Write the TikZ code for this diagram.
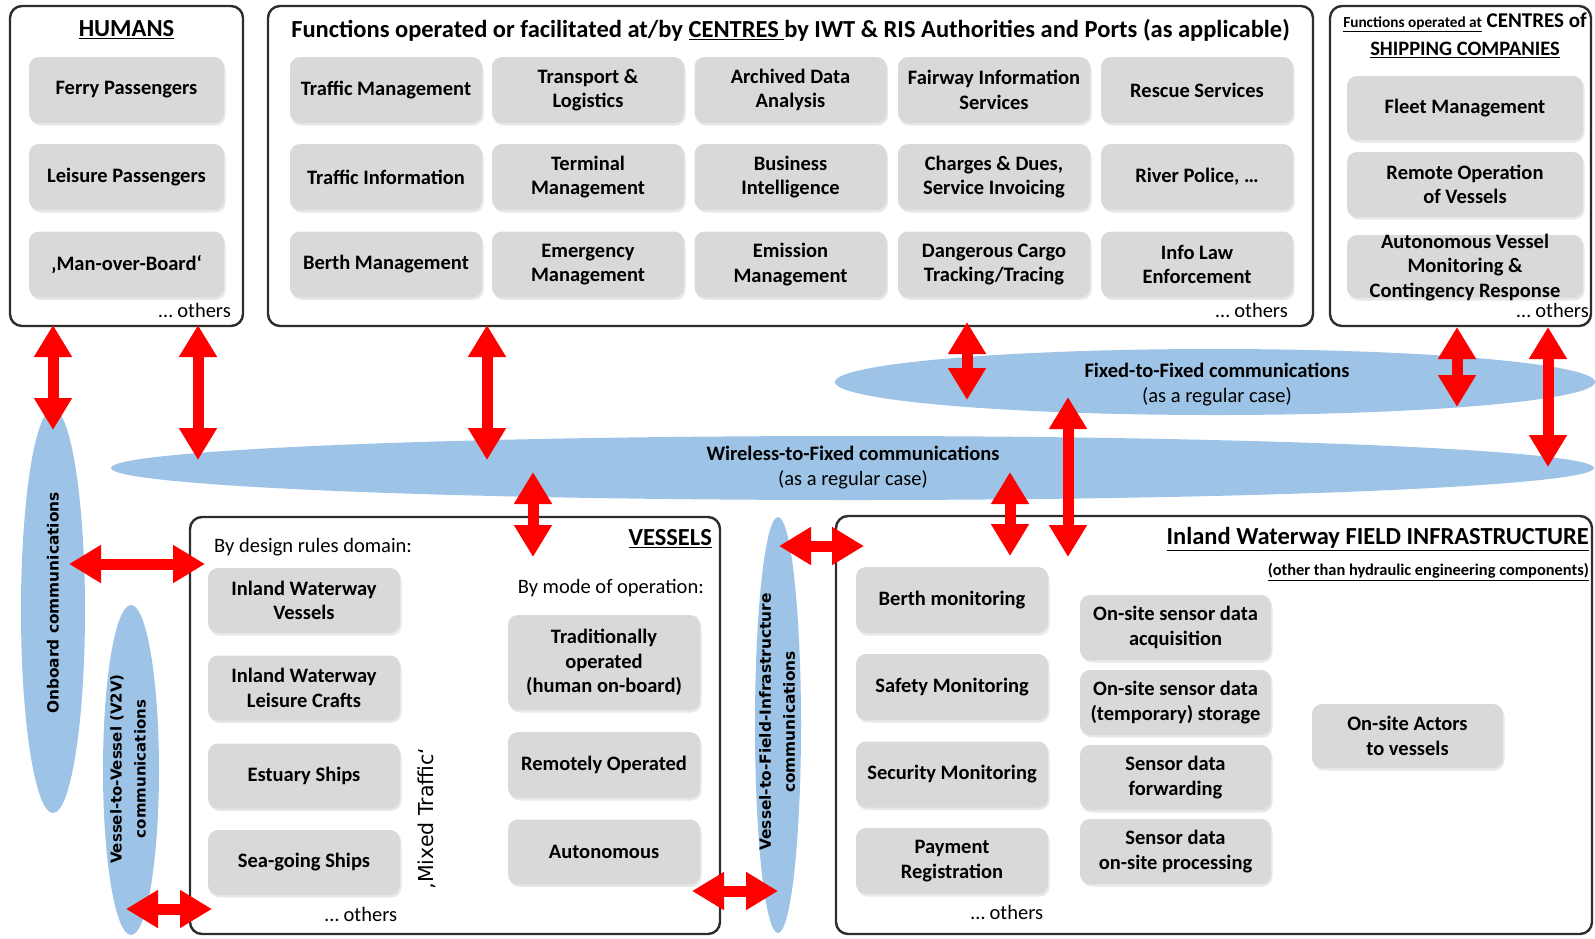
\documentclass[tikz,border=0pt]{standalone}
\usepackage{fontspec}
\setmainfont{Carlito}
\newfontfamily\vfont{DejaVu Sans}
\usetikzlibrary{arrows.meta,shapes.geometric,shadows}
\definecolor{itemgray}{RGB}{217,217,217}
\definecolor{ellblue}{RGB}{157,195,230}
\definecolor{framec}{RGB}{45,45,45}
\begin{document}
\begin{tikzpicture}[x=1pt,y=-1pt,
  fbox/.style={draw=framec, line width=2.4pt, rounded corners=12pt, inner sep=0pt},
  gbox/.style={fill=itemgray, rounded corners=10pt, align=center, inner sep=1pt,
    font=\fontsize{20.5}{24.5}\selectfont\bfseries, minimum width=192pt, minimum height=66pt,
    drop shadow={shadow xshift=1.5pt, shadow yshift=-2.5pt, opacity=0.18}},
  btext/.style={align=center, inner sep=0pt, font=\fontsize{20.5}{24.5}\selectfont\bfseries},
  commell/.style={ellipse, fill=ellblue, inner sep=0pt},
  elltext/.style={align=center, inner sep=0pt, font=\fontsize{20.5}{25}\selectfont},
  rottext/.style={align=center, inner sep=0pt, rotate=90, font=\vfont\bfseries\fontsize{15.4}{24}\selectfont},
  ttl/.style={inner sep=0pt, font=\fontsize{24.5}{28}\selectfont\bfseries},
  ptext/.style={inner sep=0pt, font=\fontsize{20.5}{24}\selectfont},
  dblarrow/.style={draw=red, line width=11pt, {Triangle[width=36pt,length=32pt]}-{Triangle[width=36pt,length=32pt]}}
]
\useasboundingbox (0,0) rectangle (1595,938);

% ---------- ellipses ----------
\node[commell, minimum width=1483pt, minimum height=64pt] (wireless) at (852.5,468) {};
\node[commell, minimum width=760pt, minimum height=66pt] (fixed) at (1215,382) {};
\node[commell, minimum width=64pt, minimum height=404pt] (onboard) at (53,611) {};
\node[commell, minimum width=56pt, minimum height=330pt] (vtov) at (131,770) {};
\node[commell, minimum width=46pt, minimum height=416pt] (vtofi) at (778,725) {};

\node[elltext] (wirelesst) at (853,467.5) {\textbf{Wireless-to-Fixed communications}\\(as a regular case)};
\node[elltext] (fixedt) at (1217,384.5) {\textbf{Fixed-to-Fixed communications}\\(as a regular case)};
\node[rottext] (onboardt) at (53,603) {Onboard communications};
\node[rottext, font=\vfont\bfseries\fontsize{15}{24}\selectfont] (vtovt) at (128,769) {Vessel-to-Vessel (V2V)\\communications};
\node[rottext] (vtofit) at (777,722) {Vessel-to-Field-Infrastructure\\communications};

% ---------- frames ----------
\node[fbox, minimum width=233pt, minimum height=320pt] (humans) at (126.5,166) {};
\node[fbox, minimum width=1045pt, minimum height=320pt] (centres) at (790.5,166) {};
\node[fbox, minimum width=261pt, minimum height=320pt] (shipping) at (1460.5,166) {};
\node[fbox, minimum width=530pt, minimum height=417pt] (vessels) at (455,725.5) {};
\node[fbox, minimum width=756pt, minimum height=418pt] (field) at (1214,725) {};

% ---------- HUMANS ----------
\node[ttl] (humanst) at (126.5,30) {\underline{HUMANS}};
\node[gbox, minimum width=195pt] (h1) at (126.5,90) {Ferry Passengers};
\node[gbox, minimum width=195pt] (h2) at (126.5,177) {Leisure Passengers};
\node[gbox, minimum width=195pt] (h3) at (126.5,264.5) {‚Man-over-Board‘};
\node[ptext, anchor=east] (humanso) at (231,310) {… others};

% ---------- CENTRES ----------
\node[ttl] (centrest) at (790.5,30)
  {Functions operated or facilitated at/by \underline{CENTRES }by IWT \& RIS Authorities and Ports (as applicable)};
\node[gbox] (c11) at (386,90) {Traffic Management};
\node[gbox] (c12) at (588,90) {Transport \&\\Logistics};
\node[gbox] (c13) at (790.5,90) {Archived Data\\Analysis};
\node[gbox] (c14) at (994,90) {Fairway Information\\Services};
\node[gbox] (c15) at (1197,90) {Rescue Services};
\node[gbox] (c21) at (386,177) {Traffic Information};
\node[gbox] (c22) at (588,177) {Terminal\\Management};
\node[gbox] (c23) at (790.5,177) {Business\\Intelligence};
\node[gbox] (c24) at (994,177) {Charges \& Dues,\\Service Invoicing};
\node[gbox] (c25) at (1197,177) {River Police, …};
\node[gbox] (c31) at (386,264.5) {Berth Management};
\node[gbox] (c32) at (588,264.5) {Emergency\\Management};
\node[gbox] (c33) at (790.5,264.5) {Emission\\Management};
\node[gbox] (c34) at (994,264.5) {Dangerous Cargo\\Tracking/Tracing};
\node[gbox] (c35) at (1197,264.5) {Info Law\\Enforcement};
\node[ptext, anchor=east] (centreso) at (1288,310) {… others};

% ---------- SHIPPING ----------
\node[inner sep=0pt, font=\fontsize{21}{24}\selectfont\bfseries] (shipt1) at (1465,22)
  {{\fontsize{15.3}{18}\selectfont\underline{Functions operated at}} CENTRES of};
\node[inner sep=0pt, font=\fontsize{20.5}{24}\selectfont\bfseries] (shipt2) at (1465,50) {\underline{SHIPPING COMPANIES}};
\node[gbox, minimum width=236pt, minimum height=64pt] (s1) at (1465,108) {Fleet Management};
\node[gbox, minimum width=236pt, minimum height=65pt] (s2) at (1465,184.5) {Remote Operation\\of Vessels};
\node[gbox, minimum width=236pt, minimum height=63pt] (s3) at (1465,266.5) {};
\node[btext] (s3t) at (1465,267.5) {Autonomous Vessel\\Monitoring \&\\Contingency Response};
\node[ptext, anchor=east] (shippingo) at (1589,310) {… others};

% ---------- VESSELS ----------
\node[ttl, anchor=east] (vesselst) at (712,539) {\underline{VESSELS}};
\node[ptext, anchor=west] (design) at (214,547) {By design rules domain:};
\node[ptext, anchor=east] (mode) at (704,588) {By mode of operation:};
\node[gbox, minimum height=65pt] (v1) at (304,600.5) {Inland Waterway\\Vessels};
\node[gbox, minimum height=65pt] (v2) at (304,688) {Inland Waterway\\Leisure Crafts};
\node[gbox, minimum height=65pt] (v3) at (304,776) {Estuary Ships};
\node[gbox, minimum height=65pt] (v4) at (304,862.5) {Sea-going Ships};
\node[inner sep=0pt, rotate=90, font=\vfont\fontsize{20.5}{24}\selectfont] (mixed) at (427,818.5) {‚Mixed Traffic‘};
\node[gbox, minimum height=95pt] (m1) at (604,662.5) {Traditionally\\operated\\(human on-board)};
\node[gbox, minimum height=66pt] (m2) at (604,765) {Remotely Operated};
\node[gbox, minimum height=65pt] (m3) at (604,852) {Autonomous};
\node[ptext] (vesselso) at (361,914) {… others};

% ---------- FIELD INFRASTRUCTURE ----------
\node[ttl, anchor=east] (fieldt) at (1589,539) {\underline{Inland Waterway FIELD INFRASTRUCTURE}};
\node[inner sep=0pt, anchor=east, font=\fontsize{16.4}{19}\selectfont\bfseries] (fieldsub) at (1589,572)
  {\underline{(other than hydraulic engineering components)}};
\node[gbox] (f11) at (952,600) {Berth monitoring};
\node[gbox] (f12) at (952,687) {Safety Monitoring};
\node[gbox] (f13) at (952,774.5) {Security Monitoring};
\node[gbox] (f14) at (952,861) {Payment\\Registration};
\node[gbox, minimum width=191pt, minimum height=65pt] (f21) at (1175.5,627.5) {On-site sensor data\\acquisition};
\node[gbox, minimum width=191pt, minimum height=65pt] (f22) at (1175.5,702.5) {On-site sensor data\\(temporary) storage};
\node[gbox, minimum width=191pt, minimum height=65pt] (f23) at (1175.5,777.5) {Sensor data\\forwarding};
\node[gbox, minimum width=191pt, minimum height=65pt] (f24) at (1175.5,851.5) {Sensor data\\on-site processing};
\node[gbox, minimum width=191pt, minimum height=64pt] (f3) at (1407.5,736) {On-site Actors\\to vessels};
\node[ptext] (fieldo) at (1007,912) {… others};

% ---------- arrow end points ----------
\coordinate (a1a) at (53,325);   \coordinate (a1b) at (53,430);
\coordinate (a2a) at (198,325);  \coordinate (a2b) at (198,460);
\coordinate (a3a) at (487,325);  \coordinate (a3b) at (487,460);
\coordinate (a4a) at (533,472);  \coordinate (a4b) at (533,557);
\coordinate (a5a) at (69,564);   \coordinate (a5b) at (205,564);
\coordinate (a6a) at (126,909);  \coordinate (a6b) at (212,909);
\coordinate (a7a) at (692,891);  \coordinate (a7b) at (778,891);
\coordinate (a8a) at (779,546);  \coordinate (a8b) at (864,546);
\coordinate (a9a) at (1010,472); \coordinate (a9b) at (1010,556);
\coordinate (a10a) at (1068,397); \coordinate (a10b) at (1068,557);
\coordinate (a11a) at (967,322); \coordinate (a11b) at (967,400);
\coordinate (a12a) at (1457,327); \coordinate (a12b) at (1457,407);
\coordinate (a13a) at (1548,327); \coordinate (a13b) at (1548,467);

\draw[dblarrow] (a1a) -- (a1b);
\draw[dblarrow] (a2a) -- (a2b);
\draw[dblarrow] (a3a) -- (a3b);
\draw[dblarrow] (a4a) -- (a4b);
\draw[dblarrow] (a5a) -- (a5b);
\draw[dblarrow] (a6a) -- (a6b);
\draw[dblarrow] (a7a) -- (a7b);
\draw[dblarrow] (a8a) -- (a8b);
\draw[dblarrow] (a9a) -- (a9b);
\draw[dblarrow] (a10a) -- (a10b);
\draw[dblarrow] (a11a) -- (a11b);
\draw[dblarrow] (a12a) -- (a12b);
\draw[dblarrow] (a13a) -- (a13b);
\end{tikzpicture}
\end{document}
